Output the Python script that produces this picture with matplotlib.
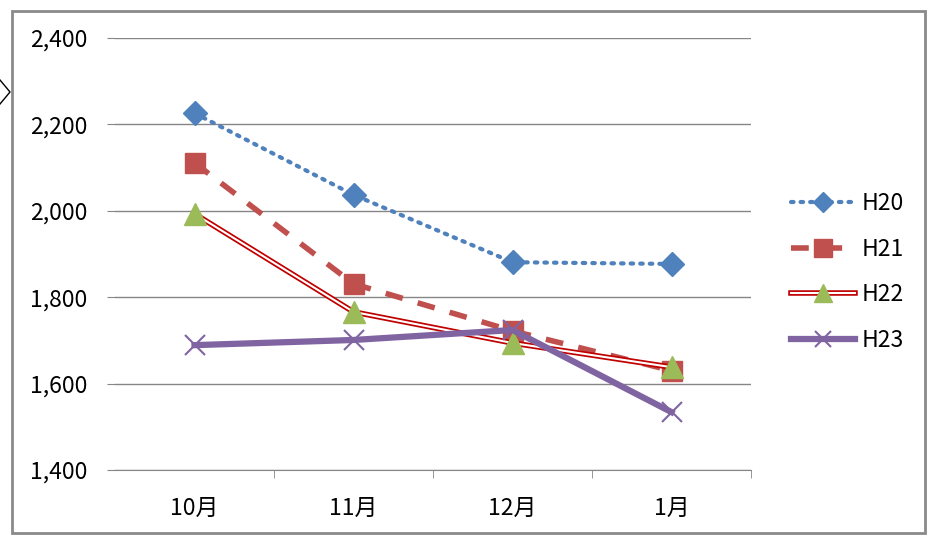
import matplotlib.pyplot as plt
from matplotlib.patches import Rectangle
from matplotlib.lines import Line2D
from matplotlib.legend_handler import HandlerTuple

plt.rcParams['font.family'] = ['Noto Sans CJK JP', 'DejaVu Sans']

months = ['10月', '11月', '12月', '1月']
h20 = [2226, 2037, 1881, 1877]
h21 = [2111, 1831, 1722, 1630]
h22 = [1993, 1766, 1694, 1638]
h23 = [1689, 1701, 1724, 1534]
yticks = [1400, 1600, 1800, 2000, 2200, 2400]

W, H = 936, 538
fig = plt.figure(figsize=(W / 100, H / 100), dpi=100)
ax = fig.add_axes([115 / W, 1 - 470 / H, 636 / W, 432 / H])

x = range(len(months))
grid = '#868686'
fs = 16.5

l20, = ax.plot(x, h20, color='#4F81BD', lw=3, linestyle=(0, (0.6, 1.7)), dash_capstyle='round',
               marker='D', ms=12, mec='#4F81BD', zorder=3)
l21, = ax.plot(x, h21, color='#C0504D', lw=4, linestyle=(0, (3.2, 2.8)),
               marker='s', ms=15, mec='#C0504D', zorder=3)
# H22: double red line (red outer, white inner) + green triangles
l22a, = ax.plot(x, h22, color='#C00000', lw=4, zorder=3)
l22b, = ax.plot(x, h22, color='white', lw=1.5, zorder=3)
l22c, = ax.plot(x, h22, ls='none', marker='^', ms=16, mfc='#9BBB59', mec='#9BBB59', zorder=3)
l23, = ax.plot(x, h23, color='#8064A2', lw=4.5, marker='x', ms=14, mew=1.5, zorder=3)

ax.set_xlim(-0.5, 3.5)
ax.set_ylim(1400, 2400)
ax.set_yticks(yticks)
ax.set_yticklabels([f'{v:,}' for v in yticks], fontsize=fs)
ax.set_xticks(list(x))
ax.set_xticklabels(months, fontsize=fs)
ax.set_xticks([0.5, 1.5, 2.5, 3.5], minor=True)
ax.tick_params(axis='x', which='major', length=0, pad=19)
ax.tick_params(axis='x', which='minor', length=6, color=grid)
ax.tick_params(axis='y', length=6, color=grid, pad=14)
ax.grid(axis='y', color=grid, lw=1)
ax.set_axisbelow(True)
for s in ['left', 'top', 'right']:
    ax.spines[s].set_visible(False)
ax.spines['bottom'].set_color(grid)

fig.legend([l20, l21, (l22a, l22b, l22c), l23], ['H20', 'H21', 'H22', 'H23'],
           handler_map={tuple: HandlerTuple(ndivide=1, pad=0)},
           loc='center left', bbox_to_anchor=(791 / W, 1 - 272 / H), frameon=False,
           fontsize=fs, handlelength=2.8, handletextpad=0.3, labelspacing=0.98,
           borderpad=0, borderaxespad=0, markerscale=0.85)

# chart frame and the arrow cut at the left edge
fig.patches.append(Rectangle((12 / W, 1 - 533 / H), 913 / W, 522 / H, transform=fig.transFigure,
                             fill=False, edgecolor='#8A8A8A', lw=2))
fig.lines.append(Line2D([0, 10 / W, 0], [1 - 80 / H, 1 - 92 / H, 1 - 104 / H],
                        transform=fig.transFigure, color='black', lw=1))

fig.savefig('out.png', dpi=100)
